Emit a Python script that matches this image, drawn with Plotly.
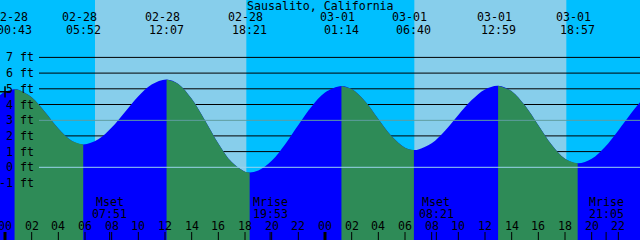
import plotly.graph_objects as go

# ---------------- data (hours from 02-28 00:00, heights in ft) ----------------
tide_t = [-0.375, 0, 0.717, 1, 2, 3, 4, 5, 5.867, 7, 8, 9, 10, 11, 12.117,
          13, 14, 15, 16, 17, 18, 18.35, 19, 20, 21, 22, 23, 24, 25.233,
          26, 27, 28, 29, 30, 30.667, 31, 32, 33, 34, 35, 36, 36.983,
          38, 39, 40, 41, 42, 42.95, 44, 45, 46, 47, 47.625]
tide_h = [4.60, 4.81, 4.97, 4.94, 4.46, 3.52, 2.47, 1.69, 1.45, 1.78, 2.53, 3.53, 4.53, 5.28, 5.60,
          5.31, 4.36, 2.98, 1.52, 0.33, -0.28, -0.33, -0.21, 0.41, 1.45, 2.69, 3.87, 4.76, 5.18,
          4.98, 4.21, 3.08, 1.98, 1.25, 1.10, 1.13, 1.53, 2.33, 3.33, 4.28, 4.96, 5.20,
          4.85, 3.93, 2.68, 1.44, 0.55, 0.25, 0.54, 1.29, 2.35, 3.49, 4.14]

event_t = [0.717, 5.867, 12.117, 18.35, 25.233, 30.667, 36.983, 42.95]
event_kind = ["high", "low", "high", "low", "high", "low", "high", "low"]
event_date = ["02-28", "02-28", "02-28", "02-28", "03-01", "03-01", "03-01", "03-01"]
event_time = ["00:43", "05:52", "12:07", "18:21", "01:14", "06:40", "12:59", "18:57"]

sunrise_t = [6.75, 30.7]
sunset_t = [18.1, 42.1]

moon_t = [7.85, 19.883, 32.35, 45.083]
moon_name = ["Mset", "Mrise", "Mset", "Mrise"]
moon_time = ["07:51", "19:53", "08:21", "21:05"]

hour_ticks = list(range(0, 48, 2))
hour_labels = ["%02d" % (h % 24) for h in hour_ticks]
midnights = [0, 24]

depth_lines = [7, 6, 5, 4, 2, 1, -1]
depth_labels = [7, 6, 5, 4, 3, 2, 1, 0, -1]
msl_level = 2.99
datum_level = 0.0
now_t, now_h = 0, 4.81

title = "Sausalito, California"

# ---------------- style ----------------
NIGHT = "#00BFFF"
DAY = "#87CEEB"
FLOOD = "#0000FF"
EBB = "#2E8B57"
MSL = "#5F9EA0"
DATUM = "#9AD4EE"
FONT = dict(family="DejaVu Sans Mono", size=11.6, color="black")
W, H = 640, 240
X_RANGE = [-0.375, 47.625]
Y_RANGE = [-4.631, 10.656]
BASE = -8

fig = go.Figure()

def add_fill(xs, ys, color):
    fig.add_trace(go.Scatter(x=xs, y=[BASE] * len(xs), mode="lines",
                             line=dict(width=0), showlegend=False, hoverinfo="skip"))
    fig.add_trace(go.Scatter(x=xs, y=ys, mode="lines",
                             line=dict(width=0, shape="spline", smoothing=1),
                             fill="tonexty", fillcolor=color,
                             showlegend=False, hoverinfo="skip"))

# flood (whole curve) then ebb segments on top
add_fill(tide_t, tide_h, FLOOD)
for i in range(len(event_t) - 1):
    if event_kind[i] == "high":
        a, b = event_t[i], event_t[i + 1]
        xs = [t for t in tide_t if a <= t <= b]
        ys = [h for t, h in zip(tide_t, tide_h) if a <= t <= b]
        add_fill(xs, ys, EBB)

# "now" marker
fig.add_trace(go.Scatter(x=[now_t], y=[now_h], mode="markers",
                         marker=dict(symbol="cross-thin", size=8,
                                     line=dict(color="black", width=1.5)),
                         showlegend=False, hoverinfo="skip"))

shapes = []
for sr, ss in zip(sunrise_t, sunset_t):
    shapes.append(dict(type="rect", xref="x", yref="paper", x0=sr, x1=ss, y0=0, y1=1,
                       fillcolor=DAY, line=dict(width=0), layer="below"))
for v in depth_lines:
    shapes.append(dict(type="line", xref="paper", yref="y", x0=39 / W, x1=1, y0=v, y1=v,
                       line=dict(color="black", width=1), layer="below"))
for v, c in [(msl_level, MSL), (datum_level, DATUM)]:
    shapes.append(dict(type="line", xref="paper", yref="y", x0=39 / W, x1=1, y0=v, y1=v,
                       line=dict(color=c, width=1), layer="above"))
for h in hour_ticks:
    shapes.append(dict(type="line", xref="x", yref="paper", x0=h, x1=h, y0=0, y1=8 / H,
                       line=dict(color="black", width=3 if h in midnights else 1),
                       layer="above"))
for t in moon_t:
    shapes.append(dict(type="line", xref="x", yref="paper", x0=t, x1=t, y0=0, y1=8 / H,
                       line=dict(color="black", width=1), layer="above"))

ann = []
def txt(text, x, y, xref="x", yref="paper", xanchor="center", xshift=0):
    ann.append(dict(text=text, x=x, y=y, xref=xref, yref=yref, xanchor=xanchor,
                    yanchor="middle", showarrow=False, font=FONT, xshift=xshift))

txt(title, 0.5, 1 - 6 / H, xref="paper")
for t, d, tm in zip(event_t, event_date, event_time):
    txt(d, t, 1 - 17 / H, xshift=-4)
    txt(tm, t, 1 - 29.5 / H)
for t, n, tm in zip(moon_t, moon_name, moon_time):
    txt(n, t, 1 - 202 / H)
    txt(tm, t, 1 - 213.5 / H)
for h, lab in zip(hour_ticks, hour_labels):
    txt(lab, h, 1 - 225.5 / H)
for v in depth_labels:
    txt("%d ft" % v, 36 / W, v, xref="paper", yref="y", xanchor="right")

fig.update_layout(
    width=W, height=H, margin=dict(l=0, r=0, t=0, b=0),
    paper_bgcolor=NIGHT, plot_bgcolor=NIGHT,
    xaxis=dict(range=X_RANGE, visible=False, fixedrange=True),
    yaxis=dict(range=Y_RANGE, visible=False, fixedrange=True),
    shapes=shapes, annotations=ann, showlegend=False,
)
fig.write_html("out.html", config={"displayModeBar": False})
